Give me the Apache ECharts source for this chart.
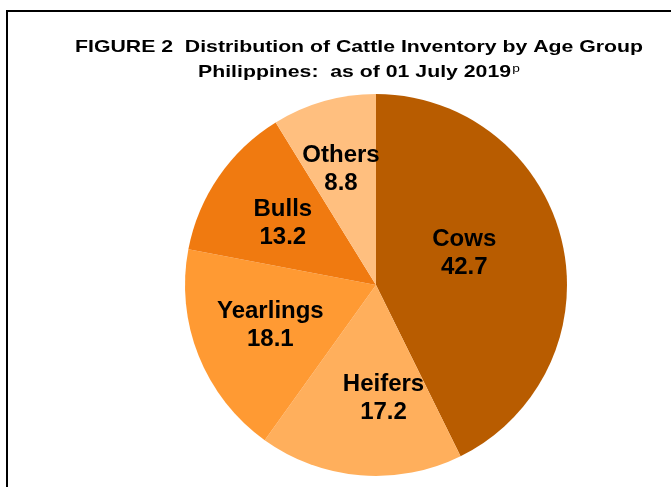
<!DOCTYPE html>
<html lang="en">
<head>
    <meta charset="UTF-8">
    <title>Cattle Inventory by Age Group</title>
    <script src="https://cdn.jsdelivr.net/npm/echarts@6/dist/echarts.min.js"></script>
    <style>
        body { margin: 0; background: #fff; }
    </style>
</head>
<body>
<div id="main" style="width: 671px;height:487px;"></div>
<script type="text/javascript">
    // data (percent)
    var groups = ['Cows', 'Heifers', 'Yearlings', 'Bulls', 'Others'];
    var shares = [42.7, 17.2, 18.1, 13.2, 8.8];
    var sliceColors = ['#B85C00', '#FFAF5C', '#FF9A33', '#F07A10', '#FFBF7F'];

    var cx = 376, cy = 285, R = 191;
    // where each label sits: fraction of radius and a small turn (deg) off the slice middle
    var labelFrac = [0.476, 0.58, 0.576, 0.57, 0.618];
    var labelTurn = [-7, -8.7, 1, -1, -1];

    var total = shares.reduce(function (a, b) { return a + b; }, 0);
    var midAngles = [];
    var acc = 0;
    shares.forEach(function (v) {
        midAngles.push((acc + v / 2) / total * 2 * Math.PI);
        acc += v;
    });

    var font = '"Liberation Sans", Arial, sans-serif';
    var myChart = echarts.init(document.getElementById('main'));

    var option = {
        backgroundColor: '#fff',
        animation: false,
        graphic: [{
            type: 'rect',
            shape: { x: 7, y: 11, width: 700, height: 500 },
            style: { fill: 'none', stroke: '#000', lineWidth: 2 },
            silent: true
        }, {
            // title is a bit wide in the original, so stretch it sideways
            type: 'text',
            x: 359,
            y: 47,
            scaleX: 1.25,
            silent: true,
            style: {
                text: 'FIGURE 2  Distribution of Cattle Inventory by Age Group',
                font: 'bold 17px ' + font,
                fill: '#000',
                align: 'center',
                verticalAlign: 'middle'
            }
        }, {
            type: 'text',
            x: 359,
            y: 72,
            scaleX: 1.25,
            silent: true,
            style: {
                text: 'Philippines:  as of 01 July 2019{sup|p}',
                font: 'bold 17px ' + font,
                fill: '#000',
                align: 'center',
                verticalAlign: 'middle',
                rich: {
                    sup: {
                        font: '11px ' + font,
                        fill: '#000',
                        verticalAlign: 'top',
                        padding: [0, 0, 6, 1]
                    }
                }
            }
        }],
        series: [{
            type: 'pie',
            center: [cx, cy],
            radius: R,
            startAngle: 90,
            clockwise: true,
            data: groups.map(function (g, i) {
                return { name: g, value: shares[i], itemStyle: { color: sliceColors[i] } };
            }),
            label: {
                show: true,
                position: 'inside',
                formatter: '{b}\n{c}',
                fontFamily: font,
                fontSize: 24,
                fontWeight: 'bold',
                color: '#000',
                lineHeight: 28
            },
            labelLayout: function (params) {
                var i = params.dataIndex;
                var a = midAngles[i];
                var b = a + labelTurn[i] * Math.PI / 180;
                var f = labelFrac[i] * R;
                var h = 0.5 * R;
                return {
                    dx: f * Math.sin(b) - h * Math.sin(a),
                    dy: -f * Math.cos(b) + h * Math.cos(a)
                };
            },
            labelLine: { show: false },
            emphasis: { disabled: true }
        }]
    };

    myChart.setOption(option);
</script>
</body>
</html>
